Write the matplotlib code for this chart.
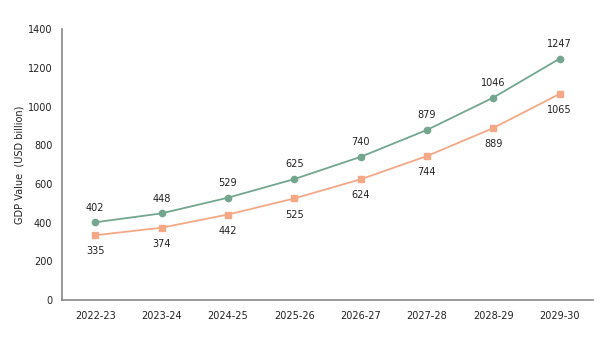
import matplotlib.pyplot as plt

years = ["2022-23", "2023-24", "2024-25", "2025-26", "2026-27", "2027-28", "2028-29", "2029-30"]
series_a = [402, 448, 529, 625, 740, 879, 1046, 1247]
series_b = [335, 374, 442, 525, 624, 744, 889, 1065]

green = "#72a68e"
orange = "#f5a886"

fig = plt.figure(figsize=(6.08, 3.59), dpi=100)
fig.patch.set_facecolor("white")
ax = fig.add_axes([0.102, 0.164, 0.873, 0.755])

x = list(range(len(years)))
ax.plot(x, series_a, color=green, marker="o", markersize=4.5, linewidth=1.3)
ax.plot(x, series_b, color=orange, marker="s", markersize=4.5, linewidth=1.3)

for i in x:
    ax.annotate(str(series_a[i]), (i, series_a[i]), xytext=(0, 7), textcoords="offset points",
                ha="center", va="bottom", fontsize=7, color="#222222")
    ax.annotate(str(series_b[i]), (i, series_b[i]), xytext=(0, -8), textcoords="offset points",
                ha="center", va="top", fontsize=7, color="#222222")

ax.set_xlim(-0.5, 7.5)
ax.set_ylim(0, 1400)
ax.set_yticks(range(0, 1401, 200))
ax.set_xticks(x)
ax.set_xticklabels(years)
ax.tick_params(axis="x", length=0, labelsize=7, colors="#222222", pad=8)
ax.tick_params(axis="y", length=0, labelsize=7, colors="#222222", pad=7)
ax.set_ylabel("GDP Value  (USD billion)", fontsize=7, color="#222222", labelpad=2)

for s in ["top", "right"]:
    ax.spines[s].set_visible(False)
for s in ["left", "bottom"]:
    ax.spines[s].set_color("#888888")
    ax.spines[s].set_linewidth(1.2)

plt.savefig("out.png", dpi=100)
